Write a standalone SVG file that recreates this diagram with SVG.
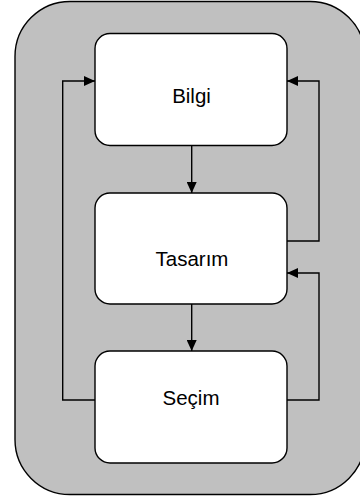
<svg xmlns="http://www.w3.org/2000/svg" width="360" height="500" viewBox="0 0 360 500">
<defs>
<style>
.box{fill:#ffffff;stroke:#000000;stroke-width:1.4}
.lbl{font-family:"Liberation Sans",Arial,sans-serif;font-size:20.5px;fill:#000000;text-anchor:middle}
.ln{fill:none;stroke:#000000;stroke-width:1.4}
</style>
<marker id="ah" markerWidth="11" markerHeight="10" refX="11" refY="5" orient="auto" markerUnits="userSpaceOnUse">
<path d="M0,0 L11,5 L0,10 Z" fill="#000000"/>
</marker>
</defs>
<g id="frame">
<rect x="15" y="1.5" width="350" height="493" rx="55" ry="55" fill="#c0c0c0" stroke="#000000" stroke-width="1.4"/>
</g>
<g id="bilgi">
<rect class="box" x="95" y="33.5" width="192" height="112" rx="15" ry="15"/>
<text class="lbl" x="191.5" y="103">Bilgi</text>
</g>
<g id="tasarim">
<rect class="box" x="95" y="193" width="192" height="111" rx="15" ry="15"/>
<text class="lbl" x="192" y="266">Tasarım</text>
</g>
<g id="secim">
<rect class="box" x="95" y="351" width="192" height="112" rx="15" ry="15"/>
<text class="lbl" x="191" y="405">Seçim</text>
</g>
<g id="connectors">
<line class="ln" x1="191.7" y1="145.5" x2="191.7" y2="193" marker-end="url(#ah)"/>
<line class="ln" x1="191.7" y1="304" x2="191.7" y2="351" marker-end="url(#ah)"/>
<polyline class="ln" points="95,400 62.7,400 62.7,81 95,81" marker-end="url(#ah)"/>
<polyline class="ln" points="287,241 319,241 319,81 287,81" marker-end="url(#ah)"/>
<polyline class="ln" points="287,400 319,400 319,273 287,273" marker-end="url(#ah)"/>
</g>
</svg>
